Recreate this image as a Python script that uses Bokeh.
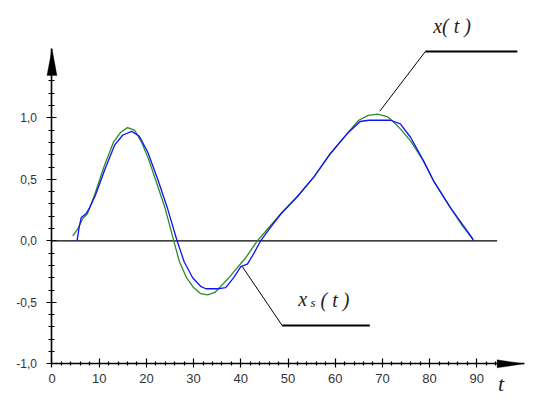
from bokeh.plotting import figure
from bokeh.models import FixedTicker, Label, Range1d, PolyAnnotation
from bokeh.embed import file_html
from bokeh.resources import INLINE

# x(t) - green curve
t_x = [4.4, 5.5, 6.5, 7.5, 9.0, 11.0, 13.0, 14.5, 16.0, 17.5, 19.0, 20.5, 22.0, 24.0,
       25.8, 27.0, 28.5, 30.0, 31.5, 33.0, 34.5, 36.0, 37.5, 39.0, 41.0, 43.5, 46.0,
       48.5, 52.0, 55.5, 59.0, 62.5, 65.0, 67.0, 69.0, 71.0, 72.0, 73.8, 76.0, 78.7,
       80.8, 84.4, 87.0, 89.2]
x_vals = [0.04, 0.10, 0.18, 0.22, 0.37, 0.60, 0.80, 0.88, 0.92, 0.90, 0.80, 0.66, 0.49, 0.26,
          0.0, -0.17, -0.30, -0.38, -0.43, -0.44, -0.42, -0.36, -0.30, -0.23, -0.14, 0.0, 0.11,
          0.22, 0.36, 0.52, 0.71, 0.87, 0.98, 1.02, 1.03, 1.01, 0.98, 0.91, 0.81, 0.65,
          0.49, 0.27, 0.12, 0.01]

# x_s(t) - blue curve
t_s = [5.3, 5.8, 6.2, 7.2, 8.0, 9.2, 11.2, 13.3, 15.0, 16.9, 18.5, 20.3, 22.4, 24.5,
       26.5, 28.0, 29.8, 31.5, 32.6, 35.0, 36.8, 38.5, 40.0, 41.4, 42.8, 44.2, 46.3,
       48.5, 52.0, 55.5, 59.0, 62.5, 65.3, 67.1, 71.7, 73.8, 76.0, 78.7, 80.8, 84.4,
       88.9, 89.3]
xs_vals = [0.0, 0.12, 0.19, 0.22, 0.27, 0.37, 0.58, 0.78, 0.86, 0.89, 0.85, 0.72, 0.50, 0.26,
           0.0, -0.17, -0.30, -0.37, -0.39, -0.39, -0.38, -0.30, -0.21, -0.19, -0.10, 0.0, 0.11,
           0.22, 0.36, 0.52, 0.71, 0.87, 0.97, 0.98, 0.98, 0.95, 0.84, 0.65, 0.49, 0.27,
           0.03, 0.0]

x_major = [0, 10, 20, 30, 40, 50, 60, 70, 80, 90]
x_minor = [v for v in range(2, 96, 2) if v % 10]
y_major = [-1.0, -0.5, 0.0, 0.5, 1.0]
y_labels = ["-1,0", "-0,5", "0,0", "0,5", "1,0"]
y_minor = [round(v * 0.1, 1) for v in range(-9, 14) if v % 5]

p = figure(frame_width=538, frame_height=401,
           x_range=Range1d(-10.911, 103.072), y_range=Range1d(-1.3065, 1.9537),
           output_backend="svg", toolbar_location=None,
           min_border_left=0, min_border_right=0, min_border_top=0, min_border_bottom=0)
p.outline_line_color = None
p.grid.visible = False
p.background_fill_color = "white"
p.border_fill_color = "white"

for ax in (p.xaxis[0], p.yaxis[0]):
    ax.axis_line_color = "black"
    ax.axis_line_width = 1.6
    ax.major_tick_line_color = "black"
    ax.minor_tick_line_color = "black"
    ax.major_tick_line_width = 1.2
    ax.minor_tick_line_width = 1.2
    ax.major_label_text_font = "Liberation Sans"
    ax.major_label_text_color = "#333333"

xa = p.xaxis[0]
xa.fixed_location = -1.0
xa.bounds = (0, 100)
xa.ticker = FixedTicker(ticks=x_major, minor_ticks=x_minor)
xa.major_tick_in = 5
xa.major_tick_out = 4
xa.minor_tick_in = 2
xa.minor_tick_out = 2
xa.major_label_standoff = 6
xa.major_label_text_font_size = "13px"

ya = p.yaxis[0]
ya.fixed_location = 0
ya.bounds = (-1.0, 1.56)
ya.ticker = FixedTicker(ticks=y_major, minor_ticks=y_minor)
ya.major_tick_in = 5
ya.major_tick_out = 5
ya.minor_tick_in = 3
ya.minor_tick_out = 3
ya.major_label_standoff = 10
ya.major_label_text_font_size = "12px"
ya.major_label_overrides = {v: s for v, s in zip(y_major, y_labels)}

# axis arrowheads
p.add_layout(PolyAnnotation(xs=[94.3, 100.0, 94.3], ys=[-1.0 + 0.033, -1.0, -1.0 - 0.033],
                            fill_color="black", fill_alpha=1, line_color="black", line_width=1))
p.add_layout(PolyAnnotation(xs=[-1.06, 0.0, 1.06], ys=[1.343, 1.561, 1.343],
                            fill_color="black", fill_alpha=1, line_color="black", line_width=1))

# zero line
p.line([0, 94.3], [0, 0], line_color="black", line_width=1.3)

# curves
p.line(t_x, x_vals, line_color="#2b8a2b", line_width=1.3)
p.line(t_s, xs_vals, line_color="#1010ff", line_width=1.3)

# leader lines
p.line([69.45, 79.1], [1.054, 1.539], line_color="black", line_width=1)
p.line([79.1, 98.6], [1.539, 1.539], line_color="black", line_width=2)
p.line([40.3, 48.77], [-0.209, -0.689], line_color="black", line_width=1)
p.line([48.77, 67.33], [-0.689, -0.689], line_color="black", line_width=2)

serif = dict(text_font="Liberation Serif", text_font_style="italic", text_color="#222222",
             text_baseline="alphabetic", text_align="left")
p.add_layout(Label(x=80.76, y=1.746, text="x( t )", text_font_size="20px", **serif))
p.add_layout(Label(x=52.16, y=-0.477, text="x", text_font_size="20px", **serif))
p.add_layout(Label(x=54.77, y=-0.499, text="s", text_font_size="13px", **serif))
p.add_layout(Label(x=56.89, y=-0.481, text="( t )", text_font_size="20px", **serif))
p.add_layout(Label(x=94.5, y=-1.163, text="t", text_font_size="22px", **serif))

open("out.html", "w").write(file_html(p, INLINE))
